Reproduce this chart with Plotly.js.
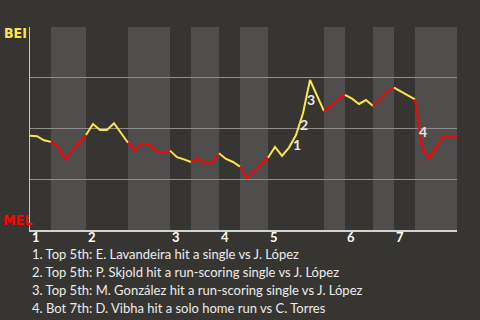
<!DOCTYPE html>
<html>
<head>
<meta charset="utf-8">
<script src="https://cdn.plot.ly/plotly-3.0.1.min.js"></script>
<style>html,body{margin:0;padding:0;background:#373531;}#chart{width:480px;height:320px;}</style>
</head>
<body>
<div id="chart"></div>
<script>
// play index along the game
const playIndex = [0,1,2,3,4,5,6,7,8,9,10,11,12,13,14,15,16,17,18,19,20,21,22,23,24,25,26,27,28,29,30,31,32,33,34,35,36,37,38,39,40,41,42,43,44,45,46,47,48,49,50,51,52,53,54,55,56,57,58,59,60,61];
// BEI win probability (%)
const winProb = [46.4,46.2,44.2,43.4,40.8,35.0,39.0,42.9,46.8,52.2,49.3,49.3,52.6,47.8,43.0,39.5,42.6,42.1,39.0,37.9,39.1,35.9,34.8,33.5,35.0,32.9,32.9,37.8,35.0,33.5,31.2,25.5,28.9,32.2,35.6,40.9,36.5,40.6,46.8,57.5,73.9,66.2,58.6,61.3,64.5,66.6,64.7,62.1,64.0,61.1,64.8,68.2,70.1,68.1,66.0,64.4,40.4,35.3,40.6,46.0,46.0,46.0];
// innings
const inningLabels = ["1","2","3","4","5","6","7"];
const inningStarts = [0,8,20,27,34,45,52];
const midInning = [3,14,23,30,42,49,55];
const gameEnd = 61;
// key plays
const keyLabels = ["1","2","3","4"];
const keyX = [38.2,39.1,40.1,56.1];
const keyY = [41.9,52.2,64.5,48.3];
const keyNotes = [
  "1. Top 5th: E. Lavandeira hit a single vs J. López",
  "2. Top 5th: P. Skjold hit a run-scoring single vs J. López",
  "3. Top 5th: M. González hit a run-scoring single vs J. López",
  "4. Bot 7th: D. Vibha hit a solo home run vs C. Torres"
];
const teamTop = "BEI", teamBottom = "MEL";

const YEL = "#fce64c", RED = "#ff0000", BG = "#373531", BAND = "#4f4e4c";
const FONT = "Lato, 'Open Sans', sans-serif";
const NARROW = "'Liberation Sans Narrow', 'DejaVu Sans Condensed', sans-serif";

const traces = [];
const shapes = [];
for (let i = 0; i < inningStarts.length; i++) {
  const halves = [
    [inningStarts[i], midInning[i], YEL],
    [midInning[i], i + 1 < inningStarts.length ? inningStarts[i + 1] : gameEnd, RED]
  ];
  halves.forEach(([a, b, c], h) => {
    const xs = [], ys = [];
    playIndex.forEach((x, k) => { if (x >= a && x <= b) { xs.push(x); ys.push(winProb[k]); } });
    traces.push({x: xs, y: ys, type: "scatter", mode: "lines", line: {color: c, width: 2}, hoverinfo: "skip", showlegend: false});
    if (h === 1) {
      shapes.push({type: "rect", xref: "x", yref: "paper", x0: a, x1: b, y0: 0, y1: 1, fillcolor: BAND, line: {width: 0}, layer: "below"});
    }
  });
}

const annotations = [];
inningStarts.forEach((s, i) => annotations.push({
  x: s, y: -0.035, xref: "x", yref: "paper", text: "<b>" + inningLabels[i] + "</b>", showarrow: false,
  xanchor: "left", yanchor: "middle", font: {family: FONT, size: 13, color: "#ffffff"}
}));
keyLabels.forEach((t, i) => annotations.push({
  x: keyX[i], y: keyY[i], xref: "x", yref: "y", text: "<b>" + t + "</b>", showarrow: false,
  xanchor: "center", yanchor: "middle", font: {family: FONT, size: 14, color: "#e8e8e8"}
}));
keyNotes.forEach((t, i) => annotations.push({
  x: 0, y: -0.12 - i * 0.088, xref: "paper", yref: "paper", text: t, showarrow: false,
  xanchor: "left", yanchor: "middle", font: {family: FONT, size: 13, color: "#ececec"}
}));
annotations.push({x: -0.066, y: 0.97, xref: "paper", yref: "paper", text: "<b>" + teamTop + "</b>", showarrow: false,
  xanchor: "left", yanchor: "middle", font: {family: NARROW, size: 14, color: YEL}});
annotations.push({x: -0.068, y: 0.048, xref: "paper", yref: "paper", text: "<b>" + teamBottom + "</b>", showarrow: false,
  xanchor: "left", yanchor: "middle", font: {family: NARROW, size: 14, color: RED}});

const layout = {
  width: 480, height: 320,
  margin: {l: 30, r: 23, t: 27, b: 90, pad: 0},
  paper_bgcolor: BG, plot_bgcolor: BG,
  showlegend: false,
  xaxis: {range: [0, gameEnd], showgrid: false, zeroline: false, showticklabels: false, ticks: "",
    showline: true, linecolor: "#d2d2d2", linewidth: 1.5, fixedrange: true},
  yaxis: {range: [0, 100], tickvals: [0, 25, 50, 75, 100], showticklabels: false, ticks: "",
    showgrid: true, gridcolor: "#8e8e8e", gridwidth: 1, zeroline: false,
    showline: true, linecolor: "#c8c8c8", linewidth: 1.5, fixedrange: true},
  shapes: shapes,
  annotations: annotations
};

Plotly.newPlot("chart", traces, layout, {staticPlot: true, displayModeBar: false});
</script>
</body>
</html>
